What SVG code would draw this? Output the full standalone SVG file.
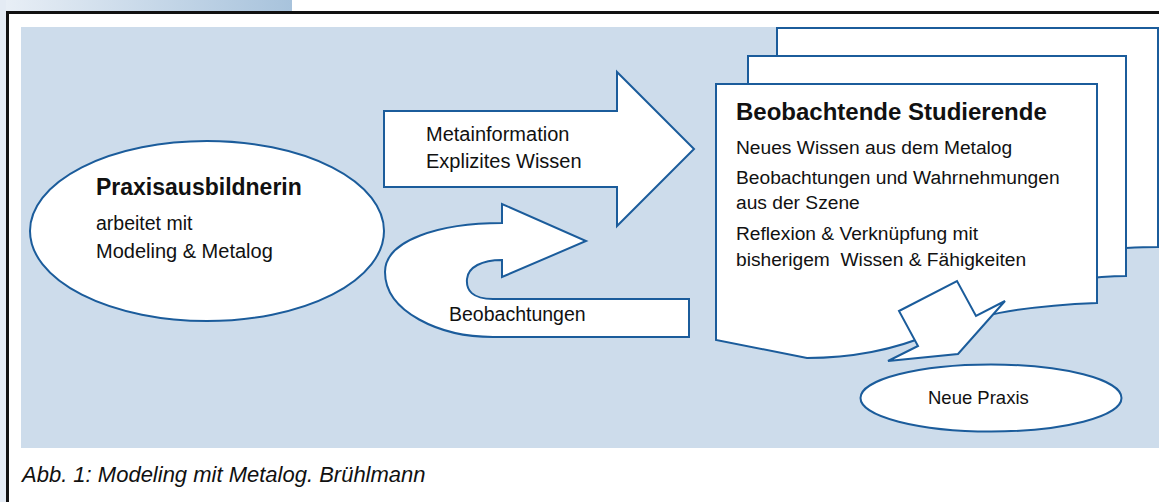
<svg xmlns="http://www.w3.org/2000/svg" width="1159" height="502" viewBox="0 0 1159 502">
<defs>
<linearGradient id="topg" x1="0" y1="0" x2="1" y2="0">
<stop offset="0" stop-color="#e9eff6"/>
<stop offset="1" stop-color="#a8c3dc"/>
</linearGradient>
<style>
.sh{fill:#ffffff;stroke:#1b5c9b;stroke-width:2;stroke-linejoin:miter}
.t{font-family:"Liberation Sans",Arial,sans-serif;fill:#111111}
.b{font-weight:bold}
</style>
</defs>
<rect x="0" y="0" width="1159" height="502" fill="#ffffff"/>
<rect x="0" y="0" width="292" height="12" fill="url(#topg)"/>
<rect x="0" y="0" width="6" height="502" fill="#e4ebf4"/>
<rect x="6" y="11" width="1153" height="3" fill="#111111"/>
<rect x="6" y="11" width="3" height="491" fill="#111111"/>
<rect x="21" y="27" width="1138" height="421" fill="#cddceb"/>

<g id="connectors">
<path class="sh" d="M384,111 L617,111 L617,72 L694,149 L617,226 L617,187 L384,187 Z"/>
<path class="sh" d="M689,299 L493,299 C472,299 466,290 467,279 C468,267 482,260 502,260 L502,277 L586,241 L502,204 L502,223 C440,223 385,240 385,272 C385,312 440,337 493,337 L689,337 Z"/>
</g>

<g id="node-praxisausbildnerin">
<ellipse class="sh" cx="207" cy="231" rx="177" ry="90"/>
<text class="t b" x="96" y="195" font-size="23">Praxisausbildnerin</text>
<text class="t" x="96" y="230" font-size="19.5">arbeitet mit</text>
<text class="t" x="96" y="258" font-size="20">Modeling &amp; Metalog</text>
</g>

<g id="label-metainformation">
<text class="t" x="426" y="141" font-size="20">Metainformation</text>
<text class="t" x="426" y="168" font-size="20">Explizites Wissen</text>
</g>

<g id="label-beobachtungen">
<text class="t" x="449" y="321" font-size="19.5">Beobachtungen</text>
</g>

<g id="node-studierende">
<path class="sh" d="M777,28 L1158,28 L1158,247 C1145,247 1135,247.5 1126,248 L1100,250 L777,270 Z"/>
<path class="sh" d="M748,56 L1126,56 L1126,276 C1112,276 1104,277 1097,277.5 L1070,280 L748,300 Z"/>
<path class="sh" d="M716,84 L1097,84 L1097,303 C1020,306 970,316 930,334 C895,350 850,358 807,358 L716,340 Z"/>
<text class="t b" x="736" y="120" font-size="24">Beobachtende Studierende</text>
<text class="t" x="736" y="154" font-size="19.2">Neues Wissen aus dem Metalog</text>
<text class="t" x="736" y="184" font-size="19.2">Beobachtungen und Wahrnehmungen</text>
<text class="t" x="736" y="209" font-size="19.2">aus der Szene</text>
<text class="t" x="736" y="240" font-size="19.2">Reflexion &amp; Verknüpfung mit</text>
<text class="t" x="736" y="266" font-size="19.2" style="white-space:pre">bisherigem  Wissen &amp; Fähigkeiten</text>
</g>

<g id="arrow-down">
<path class="sh" d="M899,311 L957,281 L976,316 L1005,301 L958,354 L888,361 L918,346 Z"/>
</g>

<g id="node-neue-praxis">
<ellipse class="sh" cx="991" cy="398" rx="130.5" ry="33.5"/>
<text class="t" x="928" y="404" font-size="18.5">Neue Praxis</text>
</g>

<text class="t" x="22" y="482" font-size="22" font-style="italic">Abb. 1: Modeling mit Metalog. Brühlmann</text>
</svg>
